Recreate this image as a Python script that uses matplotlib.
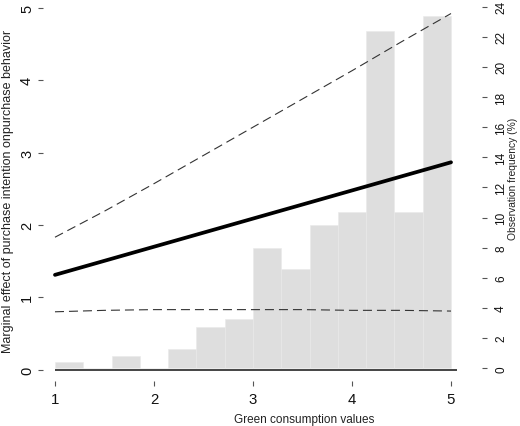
import numpy as np
import matplotlib
matplotlib.use("Agg")
import matplotlib.pyplot as plt

plt.rcParams['font.family'] = ['Liberation Sans', 'DejaVu Sans']

# ---- data ----
bin_lo, bin_hi, n_bins = 1.0, 5.0, 14
freq_pct = [0.4, 0.0, 0.8, 0.0, 1.3, 2.75, 3.25, 8.0, 6.6, 9.5, 10.4, 22.4, 10.4, 23.4]

line_x = [1, 5]
effect = [1.31, 2.865]

ci_x = [1.0, 1.5, 2.0, 2.5, 3.0, 3.5, 4.0, 4.5, 5.0]
ci_upper = [1.83, 2.19, 2.57, 2.96, 3.35, 3.74, 4.13, 4.53, 4.92]
ci_lower = [0.80, 0.82, 0.83, 0.83, 0.83, 0.83, 0.82, 0.82, 0.81]

left_ticks = [0, 1, 2, 3, 4, 5]
right_ticks = [0, 2, 4, 6, 8, 10, 12, 14, 16, 18, 20, 22, 24]
x_ticks = [1, 2, 3, 4, 5]

xlabel = "Green consumption values"
ylabel = "Marginal effect of purchase intention onpurchase behavior"
y2label = "Observation frequency (%)"

# ---- figure ----
W, H = 520, 427
fig = plt.figure(figsize=(W / 100, H / 100), dpi=100)
ax = fig.add_axes([43 / W, 45 / H, (482 - 43) / W, 380 / H])
ax2 = ax.twinx()

ylo, yhi = -0.156, 5.093
ax.set_ylim(ylo, yhi)
ax.set_xlim(0.879, 5.313)
ax2.set_ylim((ylo - 0.019) * 4.803, (yhi - 0.019) * 4.803)

# histogram on the twin axis (behind)
edges = np.linspace(bin_lo, bin_hi, n_bins + 1)
ax2.bar(edges[:-1], freq_pct, width=np.diff(edges), align='edge',
        color='#DEDEDE', edgecolor='#E9E9E9', linewidth=0.4)

ax.set_zorder(ax2.get_zorder() + 1)
ax.patch.set_visible(False)

# baseline
ax.plot([1, 5.06], [0, 0], color='#444444', lw=1.4, solid_capstyle='butt')

# lines
ax.plot(line_x, effect, color='black', lw=2.7, solid_capstyle='round')
ax.plot(ci_x, ci_upper, color='#333333', lw=0.8, dashes=(8.1, 4.5))
ax.plot(ci_x, ci_lower, color='#333333', lw=0.8, dashes=(8.1, 4.5))

for a in (ax, ax2):
    for s in a.spines.values():
        s.set_visible(False)

ax.set_xticks(x_ticks)
ax.set_xticklabels([str(t) for t in x_ticks], fontsize=10.8, color='#111111')
ax.set_yticks(left_ticks)
ax.set_yticklabels([str(t) for t in left_ticks], fontsize=10.5, color='#111111',
                   rotation=90, va='center')
ax.tick_params(axis='x', length=3.8, width=0.8, color='#555555', pad=3.8, direction='out')
ax.tick_params(axis='y', length=3.6, width=0.8, color='#555555', pad=2.8, direction='out')

ax2.set_yticks(right_ticks)
ax2.set_yticklabels([str(t) for t in right_ticks], fontsize=8.5, color='#111111',
                    rotation=90, va='center')
ax2.tick_params(axis='y', length=3.6, width=0.8, color='#555555', pad=5.8, direction='out')

fig.text(304 / W, 1 - 420 / H, xlabel, ha='center', va='center', fontsize=8.5, color='#222222')
fig.text(8 / W, 1 - 191 / H, ylabel, ha='center', va='center', rotation=90,
         fontsize=9.0, color='#222222')
fig.text(513 / W, 1 - 179 / H, y2label, ha='center', va='center', rotation=90,
         fontsize=7.4, color='#222222')

fig.savefig("out.png", dpi=100)
